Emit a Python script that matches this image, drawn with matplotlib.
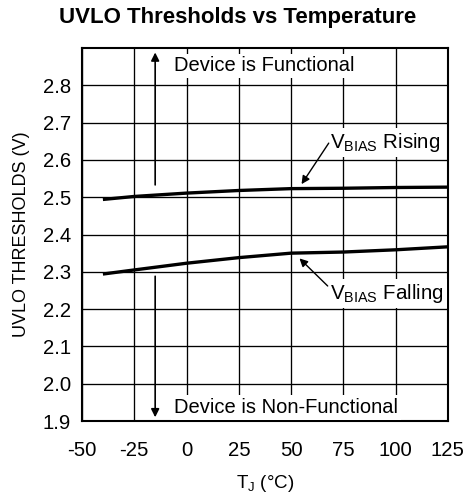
import matplotlib
matplotlib.use("Agg")
import matplotlib.pyplot as plt

plt.rcParams["font.family"] = ["Liberation Sans", "DejaVu Sans"]
plt.rcParams["mathtext.fontset"] = "custom"
plt.rcParams["mathtext.rm"] = "Liberation Sans"
plt.rcParams["mathtext.it"] = "Liberation Sans:italic"
plt.rcParams["mathtext.bf"] = "Liberation Sans:bold"
plt.rcParams["axes.unicode_minus"] = False

# ---- data
temp = [-40, -25, 0, 25, 50, 75, 100, 125]
rising = [2.494, 2.502, 2.511, 2.518, 2.523, 2.524, 2.526, 2.527]
falling = [2.294, 2.305, 2.323, 2.338, 2.350, 2.353, 2.359, 2.367]

x_ticks = [-50, -25, 0, 25, 50, 75, 100, 125]
y_ticks = [1.9, 2.0, 2.1, 2.2, 2.3, 2.4, 2.5, 2.6, 2.7, 2.8]

fig = plt.figure(figsize=(4.75, 4.99), dpi=100)
ax = fig.add_axes([0.1726, 0.1563, 0.7704, 0.7475])

ax.plot(temp, rising, color="k", lw=2.4, solid_capstyle="butt", zorder=4)
ax.plot(temp, falling, color="k", lw=2.4, solid_capstyle="butt", zorder=4)

ax.set_xlim(-50, 125)
ax.set_ylim(1.9, 2.9)
ax.set_xticks(x_ticks)
ax.set_yticks(y_ticks)
ax.set_yticklabels([f"{v:.1f}" for v in y_ticks])
ax.tick_params(length=0, labelsize=14.6)
ax.tick_params(axis="x", pad=14.5)
ax.tick_params(axis="y", pad=8)
ax.grid(True, color="k", lw=0.95)
for s in ax.spines.values():
    s.set_linewidth(1.5)

fig.text(0.5, 1 - 18 / 499, "UVLO Thresholds vs Temperature", fontsize=16,
         fontweight="bold", ha="center", va="center")
ax.set_xlabel(r"T$_{\mathrm{J}}$ (°C)", fontsize=13.5, labelpad=9)
ax.set_ylabel("UVLO THRESHOLDS (V)", fontsize=13, labelpad=9)

# ---- region annotations
box = dict(facecolor="white", edgecolor="none", pad=2)
ax.text(-6, 2.852, "Device is Functional", fontsize=14.5, va="center",
        ha="left", bbox=box, zorder=3)
ax.text(-6, 1.936, "Device is Non-Functional", fontsize=14.5, va="center",
        ha="left", bbox=box, zorder=3)
ax.annotate("", xy=(-15, 2.888), xytext=(-15, 2.533),
            arrowprops=dict(arrowstyle="-|>", color="k", lw=1.2,
                            mutation_scale=12, shrinkA=0, shrinkB=0))
ax.annotate("", xy=(-15, 1.91), xytext=(-15, 2.288),
            arrowprops=dict(arrowstyle="-|>", color="k", lw=1.2,
                            mutation_scale=12, shrinkA=0, shrinkB=0))

# ---- curve labels
ax.text(68.5, 2.647, r"V$_{\mathrm{BIAS}}$ Rising", fontsize=14.8,
        va="center", ha="left", bbox=box, zorder=3)
ax.text(68.5, 2.242, r"V$_{\mathrm{BIAS}}$ Falling", fontsize=14.8,
        va="center", ha="left", bbox=box, zorder=3)
ax.annotate("", xy=(55, 2.535), xytext=(68, 2.645),
            arrowprops=dict(arrowstyle="-|>", color="k", lw=1,
                            mutation_scale=12, shrinkA=0, shrinkB=0))
ax.annotate("", xy=(54, 2.336), xytext=(67.5, 2.262),
            arrowprops=dict(arrowstyle="-|>", color="k", lw=1,
                            mutation_scale=12, shrinkA=0, shrinkB=0))

fig.savefig("out.png", dpi=100)
